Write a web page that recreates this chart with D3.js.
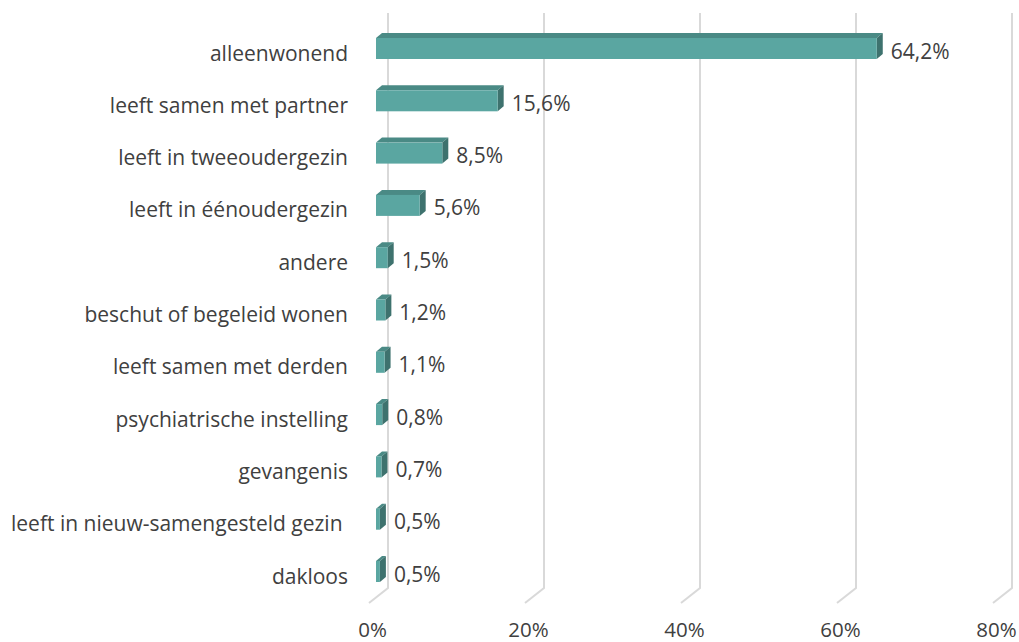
<!DOCTYPE html>
<html><head><meta charset="utf-8">
<script src="https://cdn.jsdelivr.net/npm/d3@7"></script>
<style>
html,body{margin:0;padding:0;background:#fff;}
svg{display:block;}
text{font-family:"Open Sans",sans-serif;fill:#404040;}
</style></head>
<body>
<svg id="chart" width="1019" height="642"></svg>
<script>
const categories = ["alleenwonend","leeft samen met partner","leeft in tweeoudergezin","leeft in éénoudergezin","andere","beschut of begeleid wonen","leeft samen met derden","psychiatrische instelling","gevangenis","leeft in nieuw-samengesteld gezin ","dakloos"];
const values = [64.2,15.6,8.5,5.6,1.5,1.2,1.1,0.8,0.7,0.5,0.5];
const valueLabels = ["64,2%","15,6%","8,5%","5,6%","1,5%","1,2%","1,1%","0,8%","0,7%","0,5%","0,5%"];
const ticks = [0,20,40,60,80];

const svg = d3.select("#chart");
const x = d3.scaleLinear().domain([0,80]).range([0,624]);
const y = d3.scalePoint().domain(categories).range([48.5,571.5]);

// oblique depth
const floorFrontX = 369, floorY = 603;
const backX = 388, backBottom = 588, backTop = 13;
const barX0 = 376, barH = 21, bdx = 6, bdy = -5;

// gridlines
const g = svg.append("g");
ticks.forEach(t => {
  g.append("path")
   .attr("d", `M${backX + x(t)},${backTop} L${backX + x(t)},${backBottom} L${floorFrontX + x(t)},${floorY}`)
   .attr("fill","none").attr("stroke","#d9d9d9").attr("stroke-width",2);
});

// tick labels
const xa = d3.scaleLinear().domain([0,80]).range([floorFrontX+3, floorFrontX+3+624]);
const axis = svg.append("g").attr("transform","translate(0,622)")
  .call(d3.axisBottom(xa).tickValues(ticks).tickFormat(d => d + "%").tickSize(0));
axis.select(".domain").remove();
axis.selectAll("text").style("font-size","20.5px").style("font-family","'Open Sans',sans-serif").attr("fill","#595959").attr("dy","0.71em").attr("y",0);

// bars
const bars = svg.append("g").selectAll("g").data(categories).join("g");
bars.each(function(c,i){
  const gg = d3.select(this);
  const w = x(values[i]);
  const top = y(c) - barH/2, bot = y(c) + barH/2;
  const xl = barX0, xr = barX0 + w;
  // top face
  gg.append("path").attr("d",`M${xl},${top} L${xl+bdx},${top+bdy} L${xr+bdx},${top+bdy} L${xr},${top} Z`)
    .attr("fill","#4a8a85");
  // side face
  gg.append("path").attr("d",`M${xr},${top} L${xr+bdx},${top+bdy} L${xr+bdx},${bot+bdy} L${xr},${bot} Z`)
    .attr("fill","#3e726e");
  // front face
  gg.append("rect").attr("x",xl).attr("y",top).attr("width",w).attr("height",barH)
    .attr("fill","#5aa6a1");
  // value label
  gg.append("text").attr("x", xr + bdx + 8).attr("y", y(c) + 2)
    .attr("dominant-baseline","central").style("font-size","21px").text(valueLabels[i]);
  // category label
  gg.append("text").attr("x", 348).attr("y", y(c) + 4)
    .attr("text-anchor","end").attr("dominant-baseline","central")
    .style("font-size","21px").style("white-space","pre").text(c);
});
</script>
</body></html>
